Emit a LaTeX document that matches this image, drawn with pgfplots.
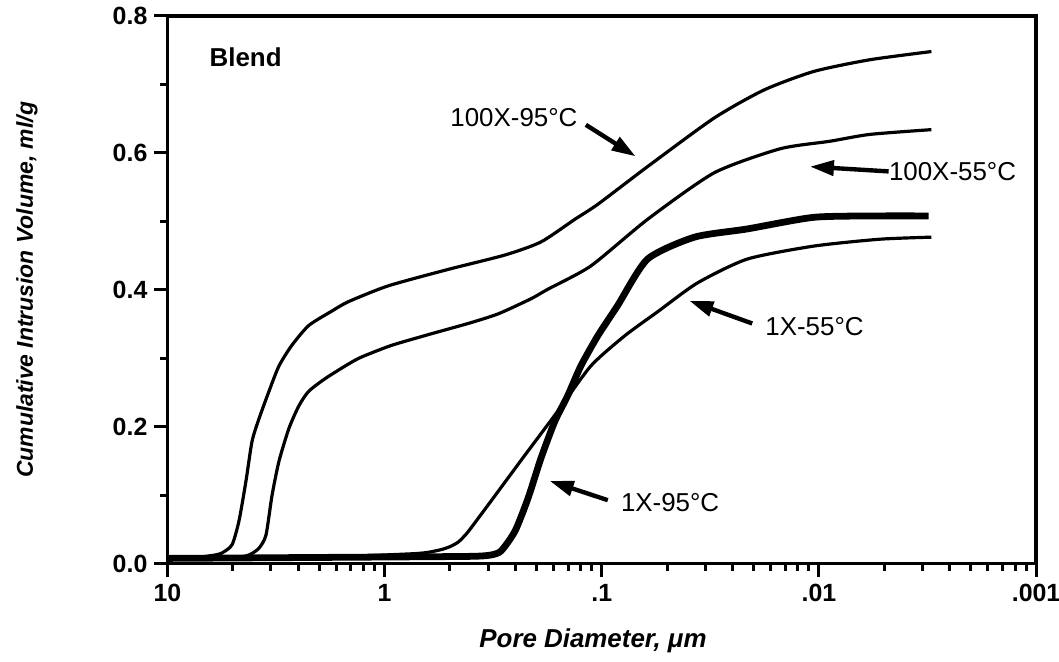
\documentclass[border=0pt]{standalone}
\usepackage{fontspec}
\setmainfont{Liberation Sans}
\usepackage{pgfplots}
\pgfplotsset{compat=1.18}
\usetikzlibrary{arrows.meta}

\pgfplotstableread{
L y
1.000 0.007
0.850 0.010
0.780 0.013
0.748 0.016
0.702 0.028
0.670 0.063
0.638 0.121
0.610 0.179
0.578 0.212
0.532 0.252
0.486 0.289
0.427 0.319
0.349 0.348
0.243 0.369
0.165 0.383
-0.018 0.406
-0.294 0.430
-0.555 0.451
-0.720 0.470
-0.876 0.503
-0.982 0.525
-1.211 0.580
-1.518 0.651
-1.748 0.692
-1.977 0.719
-2.234 0.736
-2.518 0.748
}\hundredNinetyFive

\pgfplotstableread{
L y
1.000 0.007
0.700 0.009
0.624 0.013
0.578 0.023
0.546 0.042
0.518 0.100
0.486 0.150
0.440 0.198
0.394 0.231
0.349 0.252
0.271 0.271
0.165 0.292
0.106 0.302
-0.032 0.319
-0.216 0.336
-0.385 0.351
-0.523 0.365
-0.674 0.387
-0.752 0.401
-0.950 0.435
-1.211 0.503
-1.518 0.571
-1.821 0.606
-2.050 0.617
-2.234 0.627
-2.518 0.634
}\hundredFiftyFive

\pgfplotstableread{
L y
1.000 0.008
0.300 0.010
-0.142 0.015
-0.250 0.020
-0.300 0.025
-0.340 0.032
-0.380 0.045
-0.430 0.066
-0.491 0.092
-0.647 0.159
-0.798 0.223
-0.950 0.289
-1.106 0.333
-1.257 0.368
-1.440 0.410
-1.670 0.445
-1.977 0.464
-2.280 0.474
-2.518 0.477
}\oneFiftyFive

\pgfplotstableread{
L y
1.000 0.008
0.000 0.010
-0.400 0.011
-0.490 0.013
-0.537 0.019
-0.601 0.048
-0.661 0.096
-0.720 0.154
-0.784 0.208
-0.844 0.246
-0.904 0.289
-0.982 0.333
-1.073 0.377
-1.211 0.445
-1.427 0.477
-1.670 0.489
-1.977 0.506
-2.280 0.508
-2.505 0.508
}\oneNinetyFive

\begin{document}
\begin{tikzpicture}
\begin{axis}[
  scale only axis,
  width=436pt, height=275pt,
  xmin=-3, xmax=1, ymin=0, ymax=0.8,
  x dir=reverse,
  axis line style={line width=1.6pt},
  tick pos=left,
  tick align=outside,
  major tick length=6.5pt,
  minor tick length=3.5pt,
  tick style={black, line width=1.5pt},
  xtick={1,0,-1,-2,-3},
  xticklabels={10,1,.1,.01,.001},
  minor xtick={0.699,0.523,0.398,0.301,0.222,0.155,0.097,0.046,
    -0.301,-0.477,-0.602,-0.699,-0.778,-0.845,-0.903,-0.954,
    -1.301,-1.477,-1.602,-1.699,-1.778,-1.845,-1.903,-1.954,
    -2.301,-2.477,-2.602,-2.699,-2.778,-2.845,-2.903,-2.954},
  ytick={0,0.2,0.4,0.6,0.8},
  yticklabels={0.0,0.2,0.4,0.6,0.8},
  minor ytick={0.1,0.3,0.5,0.7},
  ticklabel style={font=\bfseries\fontsize{12.5}{14}\selectfont},
  xlabel={Pore Diameter, μm},
  ylabel={Cumulative Intrusion Volume, ml/g},
  xlabel style={font=\bfseries\itshape\fontsize{13}{15}\selectfont, at={(axis description cs:0.49,-0.14)}, anchor=center},
  ylabel style={font=\bfseries\itshape\fontsize{11.5}{13}\selectfont, at={(axis description cs:-0.1617,0.5)}, anchor=center, rotate=0},
  clip=false,
]
\addplot[black, line width=1.6pt, smooth, tension=0.4] table[x=L,y=y] {\hundredNinetyFive};
\addplot[black, line width=1.6pt, smooth, tension=0.4] table[x=L,y=y] {\hundredFiftyFive};
\addplot[black, line width=1.6pt, smooth, tension=0.4] table[x=L,y=y] {\oneFiftyFive};
\addplot[black, line width=3.4pt, smooth, tension=0.4] table[x=L,y=y] {\oneNinetyFive};

\node[anchor=west, inner sep=0pt, font=\bfseries\fontsize{13}{15}\selectfont] at (axis cs:0.807,0.740) {Blend};

\node[anchor=east, inner sep=0pt, font=\fontsize{13}{15}\selectfont] at (axis cs:-0.890,0.652) {100X-95°C};
\draw[line width=2.2pt, -{Triangle[length=12pt,width=7.5pt]}] (axis cs:-0.927,0.641) -- (axis cs:-1.156,0.595);

\node[anchor=west, inner sep=0pt, font=\fontsize{13}{15}\selectfont] at (axis cs:-2.321,0.573) {100X-55°C};
\draw[line width=2.2pt, -{Triangle[length=12pt,width=7.5pt]}] (axis cs:-2.321,0.573) -- (axis cs:-1.959,0.580);

\node[anchor=west, inner sep=0pt, font=\fontsize{13}{15}\selectfont] at (axis cs:-1.752,0.346) {1X-55°C};
\draw[line width=2.2pt, -{Triangle[length=12pt,width=7.5pt]}] (axis cs:-1.693,0.351) -- (axis cs:-1.404,0.384);

\node[anchor=west, inner sep=0pt, font=\fontsize{13}{15}\selectfont] at (axis cs:-1.087,0.089) {1X-95°C};
\draw[line width=2.2pt, -{Triangle[length=12pt,width=7.5pt]}] (axis cs:-1.028,0.093) -- (axis cs:-0.761,0.121);
\end{axis}
\path (current axis.south west) ++(-84pt,-49pt) coordinate (bbl);
\path (current axis.north east) ++(11.5pt,8pt) coordinate (btr);
\pgfresetboundingbox
\path (bbl) rectangle (btr);
\end{tikzpicture}
\end{document}
